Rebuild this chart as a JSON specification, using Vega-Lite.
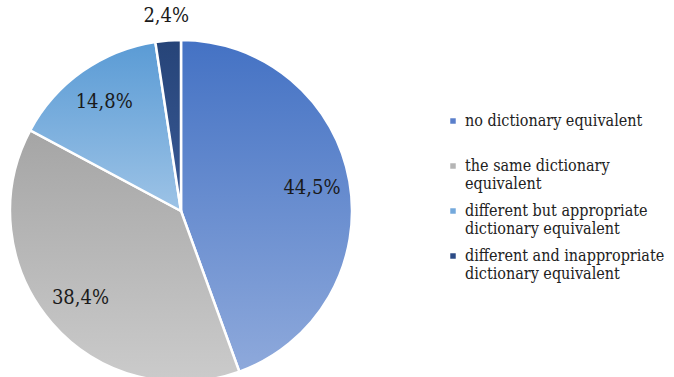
{
  "$schema": "https://vega.github.io/schema/vega-lite/v6.json",
  "width": 362,
  "height": 422,
  "autosize": "none",
  "padding": {"left": 0, "top": 0, "right": 312, "bottom": 0},
  "background": "white",
  "config": {"view": {"stroke": null}},
  "data": {
    "values": [
      {"idx": 1, "cat": "no dictionary equivalent| ", "pct": 44.5, "label": "44,5%"},
      {"idx": 2, "cat": "the same dictionary|equivalent", "pct": 38.4, "label": "38,4%"},
      {"idx": 3, "cat": "different but appropriate|dictionary equivalent", "pct": 14.8, "label": "14,8%"},
      {"idx": 4, "cat": "different and inappropriate|dictionary equivalent", "pct": 2.4, "label": "2,4%"}
    ]
  },
  "encoding": {
    "theta": {"field": "pct", "type": "quantitative", "stack": true},
    "order": {"field": "idx", "type": "quantitative"}
  },
  "layer": [
    {
      "mark": {"type": "arc", "outerRadius": 171, "stroke": "white", "strokeWidth": 2.5},
      "encoding": {
        "color": {
          "field": "cat",
          "type": "nominal",
          "sort": null,
          "scale": {
            "domain": ["no dictionary equivalent| ", "the same dictionary|equivalent", "different but appropriate|dictionary equivalent", "different and inappropriate|dictionary equivalent"],
            "range": ["#5A7FCB", "#B5B5B5", "#74A9DC", "#2C4B86"]
          },
          "legend": {
            "title": null,
            "orient": "none",
            "legendX": 445,
            "legendY": 113,
            "symbolType": "square",
            "symbolSize": 30,
            "symbolStrokeWidth": 0,
            "labelFont": "DejaVu Serif Condensed, DejaVu Serif",
            "labelFontSize": 16,
            "labelColor": "#222222",
            "labelLimit": 0,
            "labelOffset": 4,
            "rowPadding": 11,
            "labelExpr": "split(datum.label, '|')"
          }
        }
      }
    },
    {
      "mark": {"type": "arc", "outerRadius": 171, "stroke": "white", "strokeWidth": 2.5},
      "encoding": {
        "color": {
          "condition": [
            {"test": "datum.idx == 1", "value": {"gradient": "linear", "x1": 0, "y1": 0, "x2": 0, "y2": 1, "stops": [{"offset": 0, "color": "#4472C4"}, {"offset": 1, "color": "#8EA9DB"}]}},
            {"test": "datum.idx == 2", "value": {"gradient": "linear", "x1": 0, "y1": 0, "x2": 0, "y2": 1, "stops": [{"offset": 0, "color": "#A5A5A5"}, {"offset": 1, "color": "#CBCBCB"}]}},
            {"test": "datum.idx == 3", "value": {"gradient": "linear", "x1": 0, "y1": 0, "x2": 0, "y2": 1, "stops": [{"offset": 0, "color": "#5A9BD5"}, {"offset": 1, "color": "#9DC3E6"}]}}
          ],
          "value": {"gradient": "linear", "x1": 0, "y1": 0, "x2": 0, "y2": 1, "stops": [{"offset": 0, "color": "#264478"}, {"offset": 1, "color": "#3A5A96"}]}
        }
      }
    },
    {
      "mark": {
        "type": "text",
        "radius": {"expr": "datum.pct < 5 ? 196 : 133"},
        "font": "DejaVu Serif Condensed, DejaVu Serif",
        "fontSize": 20,
        "color": "#1a1a1a",
        "align": "center",
        "baseline": "middle"
      },
      "encoding": {
        "text": {"field": "label", "type": "nominal"}
      }
    }
  ]
}
